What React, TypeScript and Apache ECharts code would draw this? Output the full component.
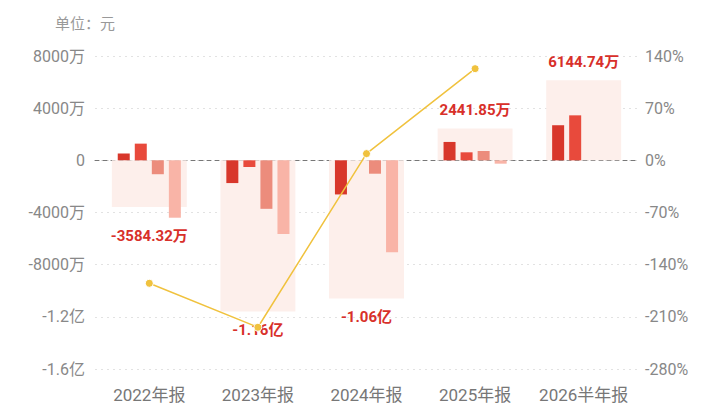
import React, { useEffect, useRef } from "react";
import * as echarts from "echarts";

const categories = ["2022年报", "2023年报", "2024年报", "2025年报", "2026半年报"];
// quarterly net values, unit: 万元
const q1 = [515, -1744, -2615, 1410, 2692];
const q2 = [1280, -513, 0, 615, 3450];
const q3 = [-1065, -3718, -1026, 718, null];
const q4 = [-4400, -5641, -7051, -256, null];
// annual totals, unit: 万元
const annual = [-3584.32, -11600, -10600, 2441.85, 6144.74];
// growth rate, %
const growth = [-165, -224, 9, 123, null];

const leftTicks = { min: -16000, max: 8000, interval: 4000 };
const rightTicks = { min: -280, max: 140, interval: 70 };

const FONT = 'Roboto, "Noto Sans CJK SC", sans-serif';

function fmtMoney(v: number): string {
  if (v === 0) return "0";
  if (Math.abs(v) >= 10000) return (v / 10000).toFixed(2) + "亿";
  return v.toFixed(2) + "万";
}
function fmtAxis(v: number): string {
  if (v === 0) return "0";
  if (Math.abs(v) >= 10000) return v / 10000 + "亿";
  return v + "万";
}

export default function App() {
  const ref = useRef<HTMLDivElement>(null);
  useEffect(() => {
    if (!ref.current) return;
    const chart = echarts.init(ref.current, null, { renderer: "svg" });
    const anchors = annual.map((a, i) => {
      const qs = [q1[i], q2[i], q3[i], q4[i], a].filter((x) => x !== null) as number[];
      return a < 0 ? Math.min(...qs) : Math.max(...qs);
    });
    const barColors = ["#d8372b", "#e84a3c", "#ec8c7c", "#f9b4a7"];
    const quarterSeries = [q1, q2, q3, q4].map((d, k) => ({
      type: "bar",
      xAxisIndex: 0,
      yAxisIndex: 0,
      data: d,
      barWidth: 12,
      barGap: "42%",
      itemStyle: { color: barColors[k] },
      z: 3,
    }));
    chart.setOption({
      animation: false,
      textStyle: { fontFamily: FONT },
      title: {
        text: "单位：元",
        left: 50,
        top: 11,
        textStyle: { fontSize: 15, fontWeight: "normal", color: "#999", fontFamily: FONT },
      },
      grid: { left: 95, right: 82, top: 56, bottom: 36 },
      xAxis: [
        {
          type: "category",
          data: categories,
          position: "bottom",
          axisLine: { show: false, onZero: false },
          axisTick: { show: false },
          axisLabel: { color: "#777", fontSize: 17, margin: 17, interval: 0, fontFamily: FONT },
        },
        {
          type: "category",
          data: categories,
          position: "bottom",
          axisLine: { show: true, onZero: true, lineStyle: { color: "#777", type: [4, 4], width: 1 } },
          axisTick: { show: false },
          axisLabel: { show: false },
        },
      ],
      yAxis: [
        {
          type: "value",
          ...leftTicks,
          axisLine: { show: false },
          axisTick: { show: false },
          axisLabel: { color: "#888", fontSize: 16, margin: 10, formatter: fmtAxis, fontFamily: FONT },
          splitLine: { lineStyle: { color: "#e2e2e2", type: [2, 4] } },
        },
        {
          type: "value",
          ...rightTicks,
          axisLine: { show: false },
          axisTick: { show: false },
          axisLabel: { color: "#888", fontSize: 16, margin: 7, formatter: (v: number) => v + "%", fontFamily: FONT },
          splitLine: { show: false },
        },
      ],
      series: [
        {
          type: "bar",
          xAxisIndex: 1,
          yAxisIndex: 0,
          data: annual,
          barWidth: "69%",
          barGap: "-100%",
          itemStyle: { color: "#fdefeb" },
          z: 1,
        },
        {
          type: "bar",
          xAxisIndex: 1,
          yAxisIndex: 0,
          data: anchors,
          barWidth: "69%",
          barGap: "-100%",
          itemStyle: { color: "rgba(0,0,0,0)" },
          label: {
            show: true,
            position: "outside",
            distance: 11,
            color: "#d8302a",
            fontSize: 15,
            fontWeight: "bold",
            fontFamily: FONT,
            formatter: (p: any) => fmtMoney(annual[p.dataIndex]),
          },
          z: 4,
        },
        ...quarterSeries,
        {
          type: "line",
          xAxisIndex: 0,
          yAxisIndex: 1,
          data: growth,
          symbol: "circle",
          symbolSize: 8,
          lineStyle: { color: "#f0c23e", width: 1.5 },
          itemStyle: { color: "#f0c23e", borderColor: "#fff", borderWidth: 1 },
          z: 10,
        },
      ],
    });
    return () => chart.dispose();
  }, []);
  return (
    <div
      ref={ref}
      style={{ position: "fixed", left: 0, top: 0, width: 720, height: 405, background: "#fff" }}
    />
  );
}
